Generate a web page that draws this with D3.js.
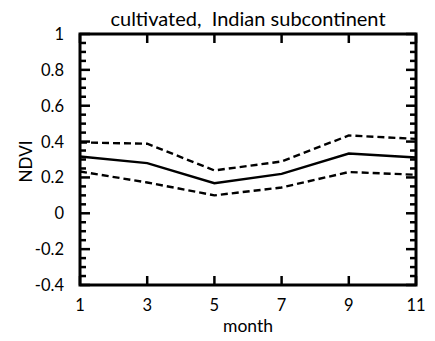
<!DOCTYPE html>
<html>
<head>
<meta charset="utf-8">
<script src="https://cdn.jsdelivr.net/npm/d3@7"></script>
<style>
  html, body { margin: 0; padding: 0; background: #fff; }
  svg text { font-family: "Lato", "DejaVu Sans", sans-serif; fill: #000; }
</style>
</head>
<body>
<svg id="chart" width="435" height="341"></svg>
<script>
// Monthly NDVI: mean and upper/lower envelope
const months = [1, 3, 5, 7, 9, 11];
const meanNdvi  = [0.317, 0.280, 0.168, 0.220, 0.333, 0.311];
const upperNdvi = [0.395, 0.388, 0.239, 0.289, 0.434, 0.415];
const lowerNdvi = [0.233, 0.172, 0.100, 0.144, 0.230, 0.215];
const xTicks = [1, 3, 5, 7, 9, 11];
const yTicks = [-0.4, -0.2, 0, 0.2, 0.4, 0.6, 0.8, 1];
const titleText = "cultivated,  Indian subcontinent";

const svg = d3.select("#chart");
const plotL = 80, plotR = 416, plotT = 34, plotB = 285;

const x = d3.scaleLinear().domain([1, 11]).range([plotL, plotR]);
const y = d3.scaleLinear().domain([-0.4, 1]).range([plotB, plotT]);

const minorY = d3.range(-0.4, 1.0001, 0.05).map(v => +v.toFixed(2));

// Frame ticks: y major/minor on left and right, x major on top and bottom
const tickG = svg.append("g").attr("stroke", "#000").attr("stroke-width", 2.5);
minorY.forEach(v => {
  const isMajor = yTicks.some(t => Math.abs(t - v) < 1e-6);
  const len = isMajor ? 10 : 6;
  tickG.append("line").attr("x1", plotL).attr("x2", plotL + len)
    .attr("y1", y(v)).attr("y2", y(v));
  tickG.append("line").attr("x1", plotR).attr("x2", plotR - len)
    .attr("y1", y(v)).attr("y2", y(v));
});
xTicks.forEach(v => {
  tickG.append("line").attr("x1", x(v)).attr("x2", x(v))
    .attr("y1", plotB).attr("y2", plotB - 9);
  tickG.append("line").attr("x1", x(v)).attr("x2", x(v))
    .attr("y1", plotT).attr("y2", plotT + 9);
});

// Plot frame
svg.append("rect")
  .attr("x", plotL).attr("y", plotT)
  .attr("width", plotR - plotL).attr("height", plotB - plotT)
  .attr("fill", "none").attr("stroke", "#000").attr("stroke-width", 3);

// Data lines
const line = vals => d3.line()
  .x((d, i) => x(months[i]))
  .y(d => y(d))(vals);

svg.append("path").attr("d", line(upperNdvi))
  .attr("fill", "none").attr("stroke", "#000").attr("stroke-width", 2.4)
  .attr("stroke-dasharray", "7,4");
svg.append("path").attr("d", line(lowerNdvi))
  .attr("fill", "none").attr("stroke", "#000").attr("stroke-width", 2.4)
  .attr("stroke-dasharray", "7,4");
svg.append("path").attr("d", line(meanNdvi))
  .attr("fill", "none").attr("stroke", "#000").attr("stroke-width", 2.4);

// Tick labels
svg.append("g").selectAll("text").data(yTicks).join("text")
  .attr("x", 64).attr("y", d => y(d) + 6)
  .attr("text-anchor", "end").attr("font-size", 16.5)
  .text(d => String(d));

svg.append("g").selectAll("text").data(xTicks).join("text")
  .attr("x", d => x(d)).attr("y", 311)
  .attr("text-anchor", "middle").attr("font-size", 16.5)
  .text(d => d);

// Axis titles and heading
svg.append("text").attr("x", (plotL + plotR) / 2).attr("y", 332)
  .attr("text-anchor", "middle").attr("font-size", 17.5).text("month");

svg.append("text")
  .attr("transform", `translate(32,${(plotT + plotB) / 2 + 2}) rotate(-90)`)
  .attr("text-anchor", "middle").attr("font-size", 17).text("NDVI");

svg.append("text").attr("x", (plotL + plotR) / 2).attr("y", 26)
  .attr("text-anchor", "middle").attr("font-size", 20)
  .style("white-space", "pre")
  .text(titleText);
</script>
</body>
</html>
